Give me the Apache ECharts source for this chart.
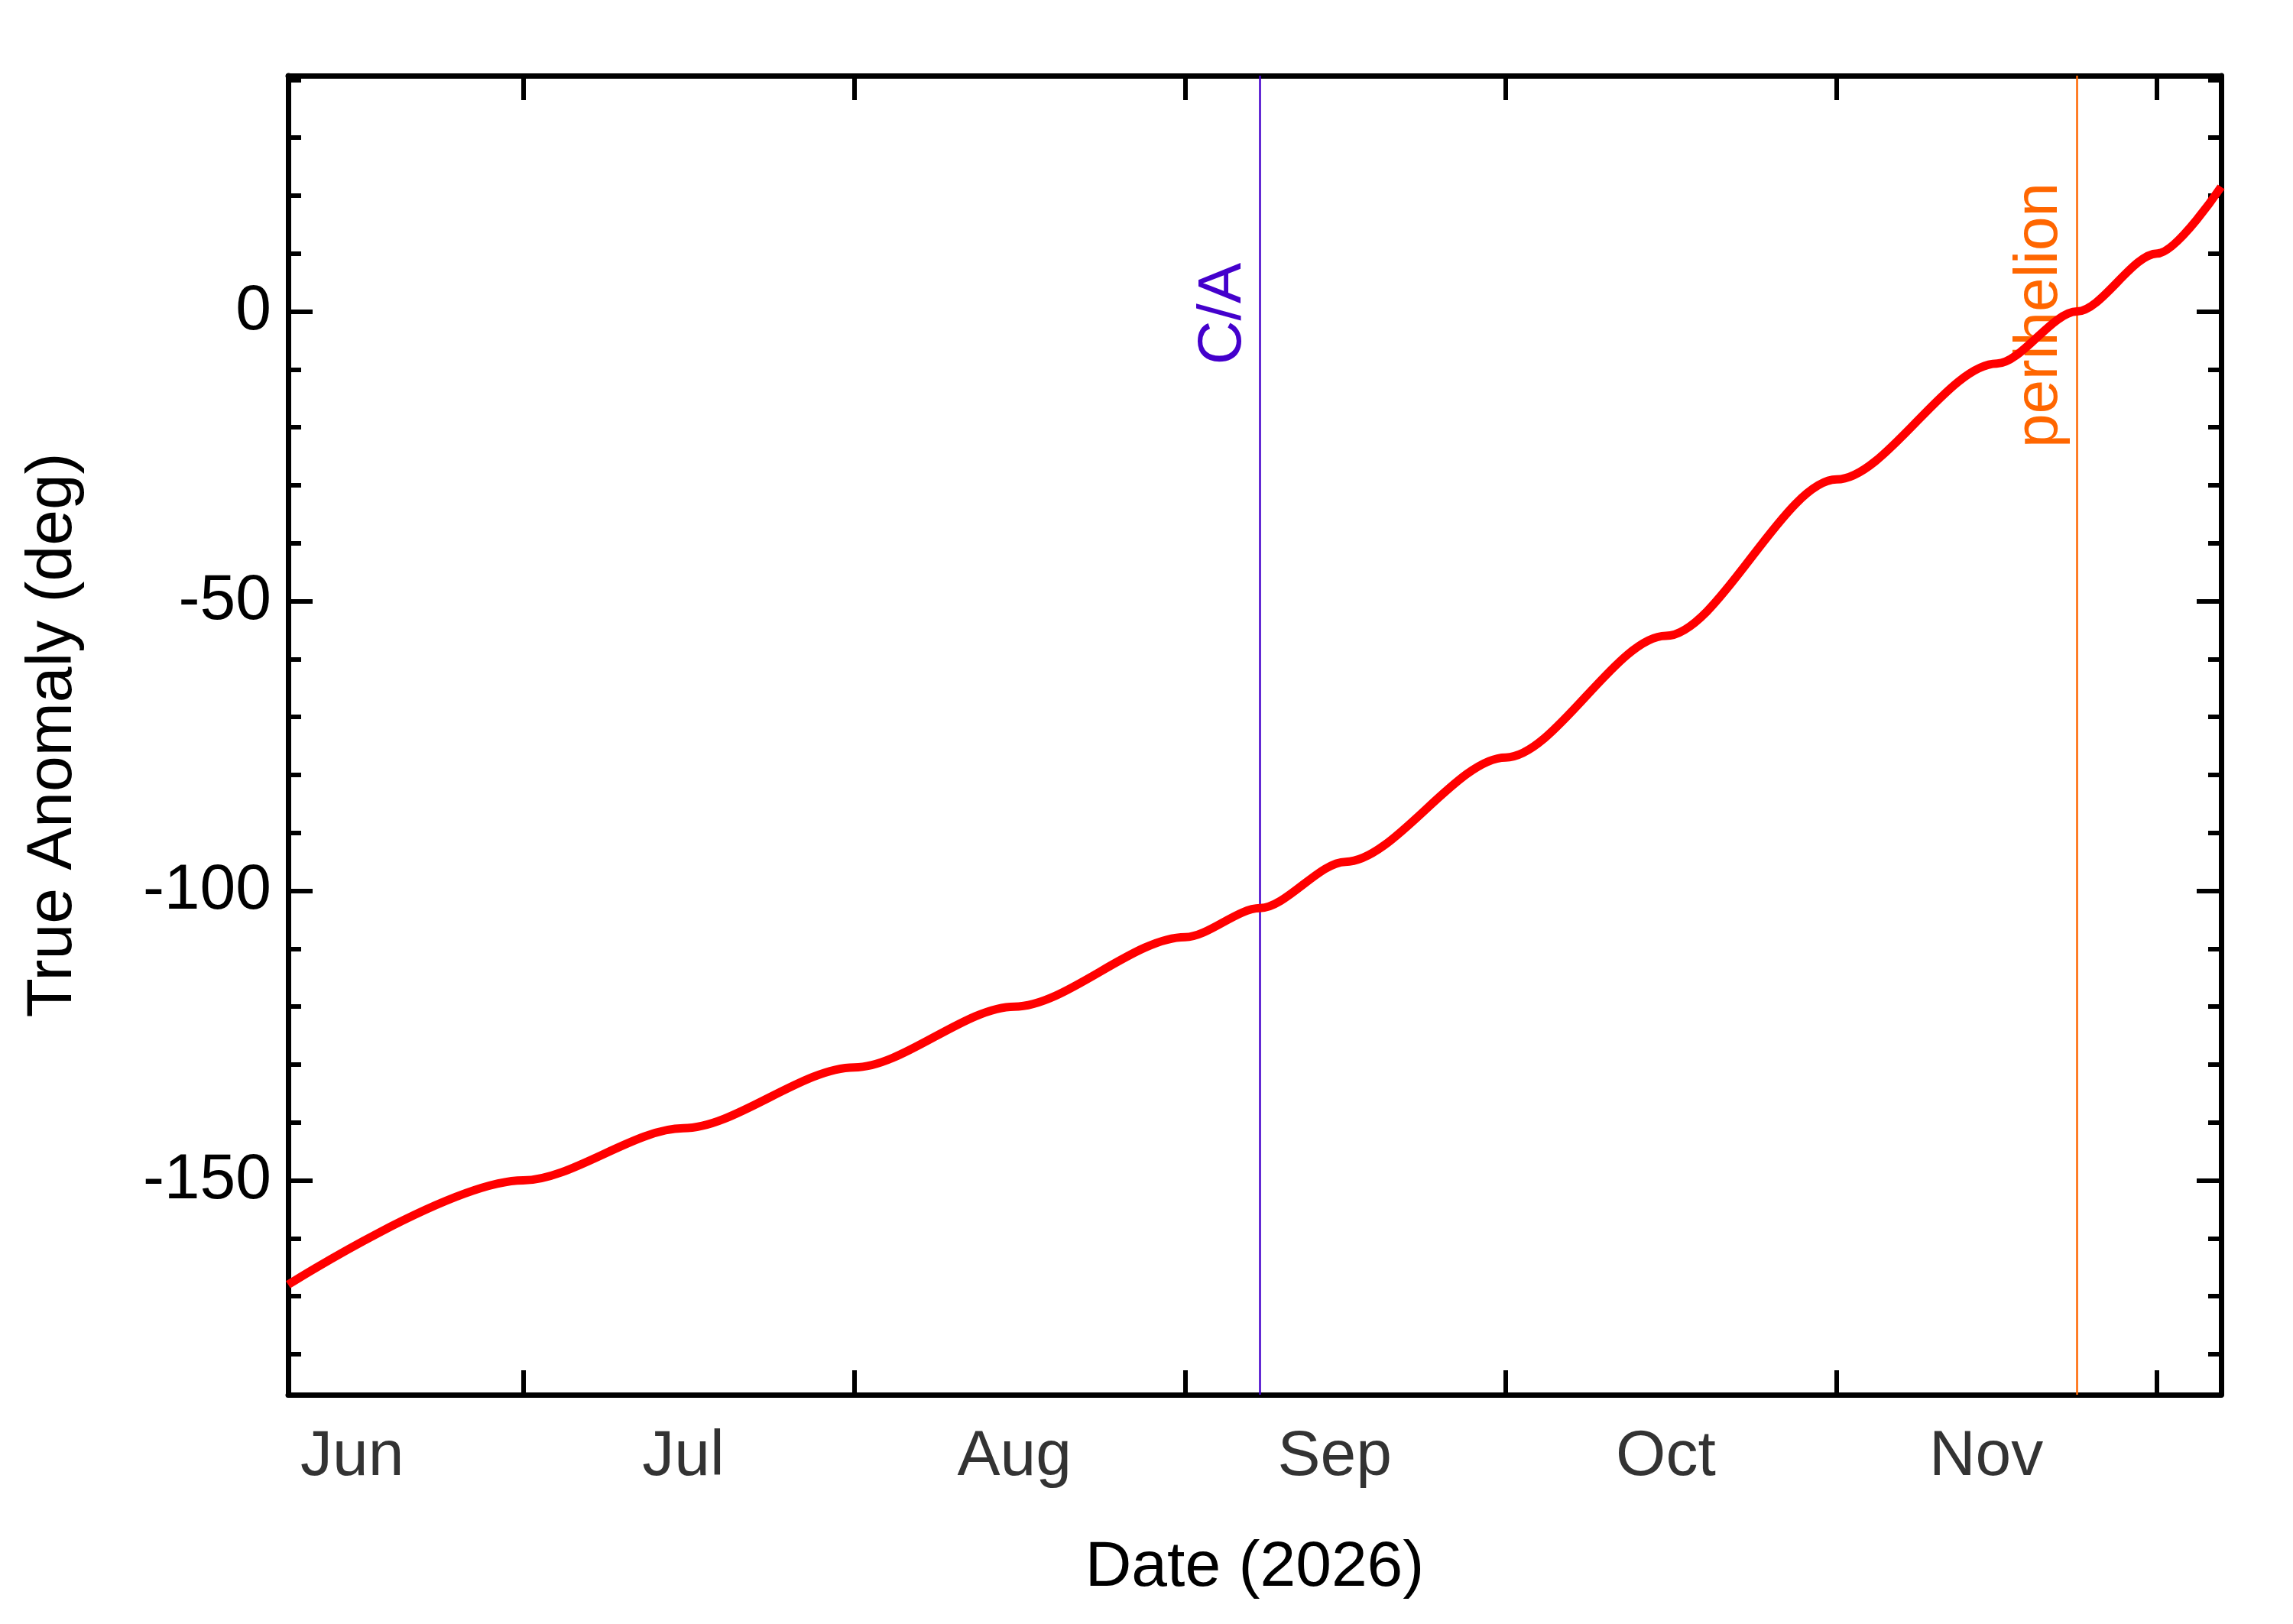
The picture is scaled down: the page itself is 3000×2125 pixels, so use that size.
<!DOCTYPE html>
<html><head><meta charset="utf-8">
<script src="https://cdn.jsdelivr.net/npm/echarts@6/dist/echarts.min.js"></script>
<style>html,body{margin:0;padding:0;background:#fff}#c{width:3000px;height:2125px}</style>
</head><body><div id="c"></div>
<script>
const dates = ['2026-06-09','2026-07-01','2026-07-16','2026-08-01','2026-08-16','2026-09-01','2026-09-08','2026-09-16','2026-10-01','2026-10-16','2026-11-01','2026-11-16','2026-11-23 12:00','2026-12-01','2026-12-07'];
const anomaly = [-168,-150,-141,-130.5,-120,-108,-103,-95,-77,-56,-29,-9,0,10,21.5];
const monthLabelDates = ['2026-06-15','2026-07-16','2026-08-16','2026-09-15','2026-10-16','2026-11-15'];
const monthLabels = ['Jun','Jul','Aug','Sep','Oct','Nov'];
const yMajor = [-150,-100,-50,0];
const yMinor = [-180,-170,-160,-140,-130,-120,-110,-90,-80,-70,-60,-40,-30,-20,-10,10,20,30,40];
const caDate = '2026-09-08';
const periDate = '2026-11-23 12:00';
const xMin = +new Date('2026-06-09'), xMax = +new Date('2026-12-07');
const yMin = -187, yMax = 40.7;
const F = 'Liberation Sans, Arial, sans-serif';
const axisCommon = {
  min: xMin, max: xMax, type: 'time', minInterval: 28*864e5, maxInterval: 31*864e5,
  axisLine: {onZero: false, lineStyle: {color: '#000', width: 7}},
  axisTick: {inside: true, length: 32, lineStyle: {color: '#000', width: 6}},
  axisLabel: {show: false}, splitLine: {show: false}
};
function yAx(pos, major, label) {
  return {
    type: 'value', min: yMin, max: yMax, position: pos,
    axisLine: {show: major, onZero: false, lineStyle: {color: '#000', width: 7}},
    axisTick: {show: true, inside: true, length: major ? 32 : 17, customValues: major ? yMajor : yMinor,
      lineStyle: {color: '#000', width: 6}},
    axisLabel: label ? {show: true, customValues: yMajor, fontSize: 84, fontFamily: F, color: '#000', margin: 22}
                     : {show: false},
    splitLine: {show: false}
  };
}
const chart = echarts.init(document.getElementById('c'));
const yl = yAx('left', true, true);
Object.assign(yl, {name: 'True Anomaly (deg)', nameLocation: 'middle', nameGap: 265,
  nameTextStyle: {fontSize: 84, fontFamily: F, color: '#000'}});
chart.setOption({
  backgroundColor: '#fff',
  animation: false,
  grid: {left: 377, right: 94, top: 99, bottom: 300},
  xAxis: [
    Object.assign({}, axisCommon, {position: 'bottom', name: 'Date (2026)', nameLocation: 'middle', nameGap: 185,
      nameTextStyle: {fontSize: 84, fontFamily: F, color: '#000'}}),
    Object.assign({}, axisCommon, {position: 'top'})
  ],
  yAxis: [yl, yAx('right', true, false), yAx('left', false, false), yAx('right', false, false)],
  series: [
    {type: 'line', data: dates.map((d, i) => [d, anomaly[i]]), smooth: 0.3, smoothMonotone: 'x', symbol: 'none',
      lineStyle: {color: '#ff0000', width: 11}, z: 5,
      markLine: {silent: true, symbol: 'none', data: [
        {xAxis: caDate, lineStyle: {color: '#4400cc', width: 2.5, type: 'solid'},
          label: {formatter: 'C/A', position: 'insideEndTop', distance: [245, 8], color: '#4400cc', fontSize: 80, fontFamily: F}},
        {xAxis: periDate, lineStyle: {color: '#ff6600', width: 2.5, type: 'solid'},
          label: {formatter: 'perihelion', position: 'insideEndTop', distance: [140, 8], color: '#ff6600', fontSize: 80, fontFamily: F}}
      ]}},
    {type: 'scatter', data: monthLabelDates.map(d => [d, yMin]), symbolSize: 0, silent: true,
      label: {show: true, position: 'bottom', distance: 40, formatter: p => monthLabels[p.dataIndex],
        fontSize: 84, fontFamily: F, color: '#000'}}
  ]
});
</script></body></html>
